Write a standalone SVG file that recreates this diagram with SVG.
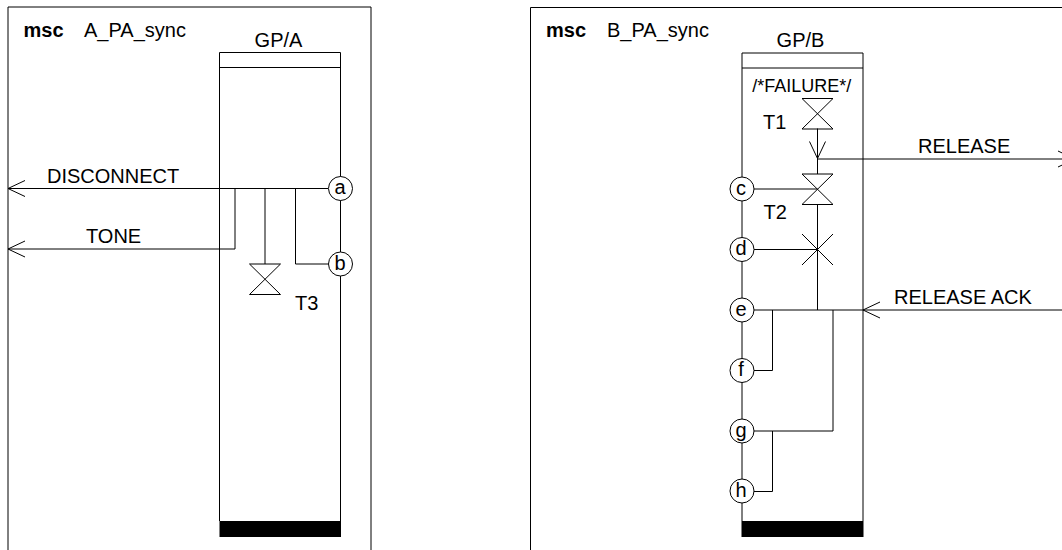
<svg xmlns="http://www.w3.org/2000/svg" width="1062" height="550" viewBox="0 0 1062 550">
<style>
text{font-family:"Liberation Sans",Arial,sans-serif;font-size:20px;fill:#000}
.b{font-weight:bold}
.m{text-anchor:middle}
.l{fill:none;stroke:#000;stroke-width:1}
.c{fill:#fff;stroke:#000;stroke-width:1}
.bar{fill:#000}
</style>
<defs>
<path id="bow" class="l" d="M-15.5 0H15.5L-15.5 30.500H15.500Z"/>
<g id="barL"><path class="l" d="M17 -8L0 0L17 8"/></g>
</defs>
<rect width="1062" height="550" fill="#fff"/>
<g id="frame-a"><path class="l" d="M8 550V7H371V550"/><text class="b" x="23.500" y="37">msc</text><text x="84" y="37">A_PA_sync</text></g>
<g id="frame-b"><path class="l" d="M530.500 550V7.500H1075"/><text class="b" x="546" y="37">msc</text><text x="607" y="37">B_PA_sync</text></g>
<g id="instance-a"><path class="l" d="M219.500 521V52.500H340.500V521M219.500 67.500H340.500"/><rect class="bar" x="219.500" y="521" width="121.500" height="16"/><text class="m" x="278.500" y="47">GP/A</text></g>
<g id="instance-b"><path class="l" d="M742 521V53H863V521M742 68H863"/><rect class="bar" x="741.500" y="521" width="122" height="16"/><text class="m" x="800.500" y="47">GP/B</text></g>
<g id="connectors">
<path class="l" d="M8 188.500H328M235 188.500V249H8M265 188.500V264M295.500 188.500V264H328.500"/>
<use href="#barL" x="8" y="188.500"/><use href="#barL" x="8" y="249"/>
<path class="l" d="M817.500 128.500V174M817.500 159H1075M1058 151L1075 159L1058 167M809.500 141.500L817.500 158.500L825.500 141.500"/>
<path class="l" d="M754 189H817.500M817.500 204V310M754 249.500H817.500"/>
<path class="l" d="M754 310H1062M772.500 310V370.500H754M833 310V431H754M772.500 431V491.500H754"/>
<use href="#barL" x="863" y="310"/>
</g>
<g id="timer-t3"><use href="#bow" x="265" y="264"/><text x="295" y="310">T3</text></g>
<g id="timer-t1"><use href="#bow" x="817.500" y="98.500"/><text x="763" y="129">T1</text></g>
<g id="timer-t2"><use href="#bow" x="817.500" y="174"/><text x="763.500" y="219">T2</text></g>
<g id="stop-d"><path class="l" d="M802 234L833 265M833 234L802 265"/></g>
<g id="ref-a"><circle class="c" cx="340.500" cy="188.500" r="12"/><text class="m" x="340" y="194">a</text></g>
<g id="ref-b"><circle class="c" cx="340.500" cy="264" r="12"/><text class="m" x="340" y="269.500">b</text></g>
<g id="ref-c"><circle class="c" cx="742" cy="189" r="12"/><text class="m" x="741" y="194.500">c</text></g>
<g id="ref-d"><circle class="c" cx="742" cy="249.500" r="12"/><text class="m" x="741" y="255">d</text></g>
<g id="ref-e"><circle class="c" cx="742" cy="310" r="12"/><text class="m" x="741" y="315.500">e</text></g>
<g id="ref-f"><circle class="c" cx="742" cy="370.500" r="12"/><text class="m" x="741" y="376">f</text></g>
<g id="ref-g"><circle class="c" cx="742" cy="431" r="12"/><text class="m" x="741" y="436.500">g</text></g>
<g id="ref-h"><circle class="c" cx="742" cy="491" r="12"/><text class="m" x="741" y="496.500">h</text></g>
<g id="labels">
<text x="47" y="183">DISCONNECT</text>
<text x="86" y="243">TONE</text>
<text x="918" y="153">RELEASE</text>
<text x="894" y="304">RELEASE ACK</text>
<text class="m" x="801.700" y="92" style="font-size:18px">/*FAILURE*/</text>
</g>
</svg>
